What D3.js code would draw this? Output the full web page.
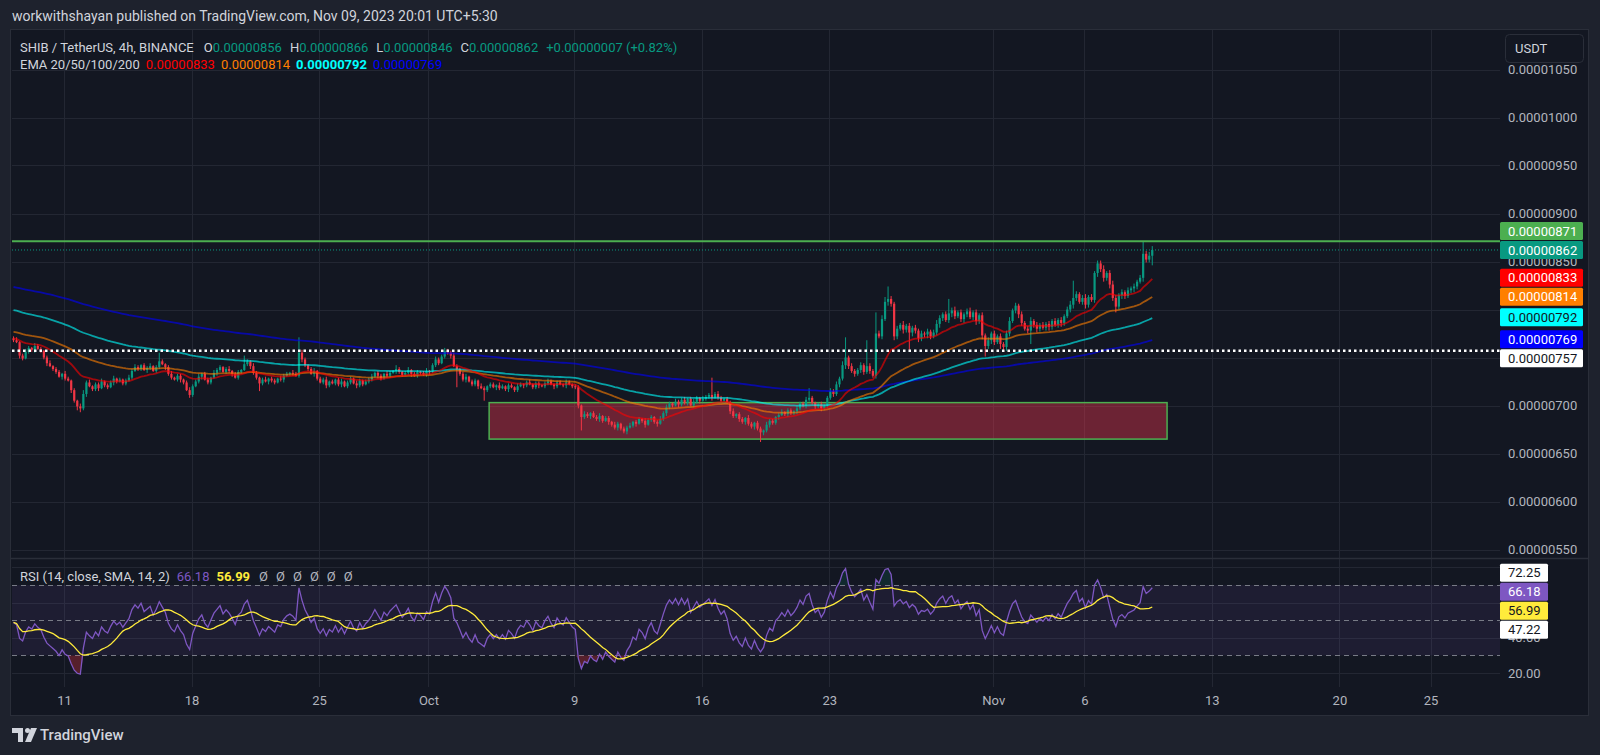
<!DOCTYPE html>
<html>
<head>
<meta charset="utf-8">
<script src="https://cdn.jsdelivr.net/npm/d3@7"></script>
<style>
body { margin: 0; background: #1e222d; }
svg { display: block; font-family: Roboto, "Noto Sans", sans-serif; }
</style>
</head>
<body>
<div id="chart"></div>
<script>
// ---- data (prices in units of 0.00000001 USDT) ----
var firstBar = Date.UTC(2023, 8, 8, 5, 30);   // first 4h candle
var barMs = 4 * 3600 * 1000;
var firstOpen = 770;

var closes = [
  768,766,752,749,756,760,758,762,759,757,750,744,741,738,735,730,733,728,726,716,
  705,699,697,712,724,720,717,722,718,725,721,719,724,728,725,727,723,726,729,736,
  740,738,742,737,739,741,736,740,746,743,740,733,729,727,731,727,724,716,711,720,
  725,730,733,727,724,729,734,737,740,735,738,736,733,729,735,737,743,746,741,734,
  729,723,727,725,728,726,724,728,727,731,733,734,733,731,755,748,742,738,733,736,
  728,724,727,721,725,723,727,722,725,720,724,728,723,721,726,722,725,727,730,734,
  731,728,733,731,734,736,738,735,732,734,737,733,731,735,734,732,736,735,742,748,
  744,751,757,755,752,741,738,733,727,730,725,722,726,720,718,716,720,722,719,721,
  718,720,717,721,719,716,720,722,721,724,722,719,723,721,720,723,725,722,720,724,
  722,721,724,722,720,719,700,688,691,689,692,688,686,689,684,687,683,680,677,681,
  676,673,677,679,683,681,686,684,680,685,688,683,681,686,692,698,702,700,704,701,
  706,703,707,700,704,708,705,707,709,711,708,712,708,705,707,703,694,689,691,686,
  683,687,681,678,682,676,672,674,680,684,682,688,690,693,691,695,692,694,697,702,
  700,706,708,703,699,701,697,700,708,715,712,722,728,742,750,741,736,733,737,742,
  735,741,736,731,775,772,790,808,811,806,772,780,784,779,783,776,781,778,770,775,
  774,777,772,776,785,791,795,789,796,799,793,797,790,795,798,792,797,788,794,773,
  762,768,775,766,772,764,761,775,788,799,804,795,786,780,778,788,784,780,784,781,
  785,782,788,784,789,786,793,800,805,812,816,808,812,805,813,810,838,848,842,833,
  838,826,812,803,815,818,814,820,822,824,829,833,858,852,856,862
];

// wick above the body / below the body
var upWick = [
  2,3,1,2,3,2,1,3,2,2,1,2,3,1,2,2,1,3,2,1,
  2,1,3,4,2,3,1,2,2,3,1,2,2,3,1,2,1,2,3,2,
  3,2,1,2,2,3,1,2,9,2,1,2,3,1,2,2,1,2,3,2,
  2,3,1,2,2,1,3,2,2,1,2,3,1,2,2,1,9,2,1,3,
  2,1,2,3,1,2,2,1,3,2,2,1,3,2,16,3,2,1,2,3,
  1,2,2,3,1,2,1,2,3,1,2,2,1,3,2,1,2,2,3,1,
  2,2,1,3,2,1,4,2,1,2,3,1,2,2,1,2,3,1,2,3,
  2,2,3,2,2,3,2,1,2,3,1,2,2,1,3,2,1,2,2,1,
  3,2,1,2,2,1,3,2,1,2,3,1,2,2,1,2,3,2,1,2,
  2,1,3,2,1,2,2,1,3,2,1,2,2,3,1,2,2,1,3,2,
  1,2,2,3,1,2,2,1,3,2,2,1,2,3,2,3,2,1,3,2,
  2,3,1,2,3,2,1,3,2,2,18,2,3,2,1,2,2,3,1,2,
  2,1,3,2,1,2,2,1,3,2,2,1,2,3,1,2,2,1,3,2,
  2,3,10,2,1,2,3,1,2,3,2,3,2,4,21,2,3,2,2,3,
  2,27,3,2,22,3,4,5,13,3,2,3,2,4,2,3,2,3,2,3,
  2,3,2,3,4,3,2,3,15,3,4,2,3,2,3,4,2,3,2,3,
  2,3,2,3,2,3,2,3,4,2,3,2,3,2,3,4,2,3,2,3,
  2,3,2,3,2,3,2,3,4,18,3,2,3,4,2,3,2,3,3,4,
  2,3,4,3,2,3,2,3,2,3,2,3,13,3,4,4
];
var dnWick = [
  2,1,3,2,1,2,2,3,1,2,2,3,1,2,2,1,3,2,1,3,
  2,4,4,2,3,1,2,2,3,1,2,2,1,3,2,1,2,2,1,2,
  1,2,2,1,3,2,1,2,2,1,3,2,2,1,2,3,2,1,3,2,
  1,2,3,1,2,2,1,3,2,1,2,2,3,1,2,2,1,2,3,2,
  2,8,2,1,3,2,2,1,2,3,1,2,2,1,2,3,2,2,1,3,
  2,1,2,3,2,1,2,2,3,1,2,2,1,3,2,2,1,2,2,1,
  3,2,1,2,2,1,3,2,2,1,2,3,1,2,2,1,2,3,1,2,
  2,1,2,2,3,1,19,2,2,3,1,2,2,3,1,11,2,2,1,3,
  2,1,2,3,1,2,2,1,3,2,1,2,2,3,1,2,2,1,3,2,
  1,2,3,1,2,2,3,14,2,2,3,1,2,3,2,1,3,2,2,3,
  2,2,3,1,2,3,1,2,3,1,2,2,3,1,2,3,2,2,1,3,
  2,2,3,1,2,2,3,1,2,2,3,1,2,2,3,1,3,2,2,3,
  2,3,2,2,3,2,10,3,2,3,2,2,3,1,2,3,2,2,3,2,
  2,3,2,2,3,2,3,2,3,2,3,2,3,2,4,3,2,3,2,3,
  3,2,3,2,3,2,3,2,4,3,4,3,2,4,3,18,4,3,4,3,
  3,4,3,2,3,4,3,2,3,4,3,2,3,4,3,2,3,4,3,4,
  11,3,4,3,2,5,3,4,3,2,3,4,3,2,3,14,3,4,3,2,
  3,4,3,2,3,4,3,2,3,4,3,2,3,4,3,2,3,4,3,4,
  3,4,3,6,3,4,3,2,3,4,3,2,4,3,3,10
];

var emaPeriods = [20, 50, 100, 200];
var emaSeeds   = [770, 777, 800, 824];     // EMA values at the left edge
var emaLast    = [833, 814, 792, 769];     // legend values
var lastBar    = [856, 866, 846, 862];     // O H L C
var lastChange = [7, 0.82];
var resistance = 871;
var support    = 757;
var zonePrices = [665, 703];
var zoneDates  = [Date.UTC(2023, 9, 4, 8), Date.UTC(2023, 10, 10, 13)];

var priceTicks = [550, 600, 650, 700, 750, 800, 850, 900, 950, 1000, 1050];
var rsiTicks   = [20, 40, 60, 80];
var rsiLevels  = [30, 50, 70];
var rsiLegend  = [66.18, 56.99];
var rsiBands   = [72.25, 47.22];
var dateTicks  = [Date.UTC(2023,8,11), Date.UTC(2023,8,18), Date.UTC(2023,8,25), Date.UTC(2023,9,1),
                  Date.UTC(2023,9,9), Date.UTC(2023,9,16), Date.UTC(2023,9,23), Date.UTC(2023,10,1),
                  Date.UTC(2023,10,6), Date.UTC(2023,10,13), Date.UTC(2023,10,20), Date.UTC(2023,10,25)];
var dateLabels = ["11", "18", "25", "Oct", "9", "16", "23", "Nov", "6", "13", "20", "25"];

// ---- styles ----
var upColor = "#089981", downColor = "#f23645";
var emaColors = ["#ff0000", "#ff7f00", "#00ffff", "#0000ff"];
var gridColor = "#232733";
var axisText = "#b2b5be";

function fmt(p) { return (p / 1e8).toFixed(8); }

// ---- derived series ----
var opens = closes.map(function(c, i) { return i === 0 ? firstOpen : closes[i - 1]; });
var highs = closes.map(function(c, i) { return Math.max(c, opens[i]) + upWick[i]; });
var lows  = closes.map(function(c, i) { return Math.min(c, opens[i]) - dnWick[i]; });
var times = closes.map(function(c, i) { return new Date(firstBar + i * barMs); });

function ema(period, seed) {
  var a = 2 / (period + 1), e = seed;
  return closes.map(function(c) { e = e + a * (c - e); return e; });
}
var emas = emaPeriods.map(function(p, k) { return ema(p, emaSeeds[k]); });

// RSI 14 (Wilder) and its SMA 14
var ag = 3, al = 3;
var rsi = closes.map(function(c, i) {
  var d = c - opens[i];
  ag = (ag * 13 + Math.max(d, 0)) / 14;
  al = (al * 13 + Math.max(-d, 0)) / 14;
  return 100 - 100 / (1 + ag / al);
});
var rsiMa = rsi.map(function(r, i) {
  var s = rsi.slice(Math.max(0, i - 13), i + 1);
  return d3.mean(s);
});

// ---- layout ----
var W = 1600, H = 755;
var plotL = 12, plotR = 1500;
var mainTop = 30, mainBot = 558, rsiBot = 687;

var svg = d3.select("#chart").append("svg")
    .attr("width", W)
    .attr("height", H);

svg.append("rect").attr("width", W).attr("height", H).attr("fill", "#1e222d");
svg.append("rect")
    .attr("x", 10.5).attr("y", 29.5)
    .attr("width", 1578).attr("height", 686)
    .attr("fill", "#131722").attr("stroke", "#2a2e39");

var x = d3.scaleTime()
    .domain([new Date(Date.UTC(2023, 8, 11)), new Date(Date.UTC(2023, 10, 25))])
    .range([64, 1430.5]);
var y = d3.scaleLinear().domain([550, 1050]).range([549.5, 69.5]);
var yR = d3.scaleLinear().domain([20, 80]).range([673, 567.4]);

var defs = svg.append("defs");
defs.append("clipPath").attr("id", "clipMain").append("rect")
    .attr("x", plotL).attr("y", mainTop).attr("width", plotR - plotL).attr("height", mainBot - mainTop);
defs.append("clipPath").attr("id", "clipRsi").append("rect")
    .attr("x", plotL).attr("y", mainBot).attr("width", plotR - plotL).attr("height", rsiBot - mainBot);

// grid
var grid = svg.append("g");
grid.selectAll(".hg").data(priceTicks).enter().append("line")
    .attr("x1", plotL).attr("x2", plotR)
    .attr("y1", function(d) { return Math.round(y(d)) + 0.5; })
    .attr("y2", function(d) { return Math.round(y(d)) + 0.5; })
    .attr("stroke", gridColor);
grid.selectAll(".rg").data(rsiTicks).enter().append("line")
    .attr("x1", plotL).attr("x2", plotR)
    .attr("y1", function(d) { return Math.round(yR(d)) + 0.5; })
    .attr("y2", function(d) { return Math.round(yR(d)) + 0.5; })
    .attr("stroke", gridColor);
grid.selectAll(".vg").data(dateTicks).enter().append("line")
    .attr("x1", function(d) { return Math.round(x(d)) + 0.5; })
    .attr("x2", function(d) { return Math.round(x(d)) + 0.5; })
    .attr("y1", mainTop).attr("y2", rsiBot)
    .attr("stroke", gridColor);

svg.append("line")
    .attr("x1", 10).attr("x2", 1588).attr("y1", mainBot + 0.5).attr("y2", mainBot + 0.5)
    .attr("stroke", "#2a2e39").attr("stroke-width", 1.5);

// ---- main pane ----
var main = svg.append("g").attr("clip-path", "url(#clipMain)");

// support zone
main.append("rect")
    .attr("x", x(zoneDates[0])).attr("y", y(zonePrices[1]))
    .attr("width", x(zoneDates[1]) - x(zoneDates[0]))
    .attr("height", y(zonePrices[0]) - y(zonePrices[1]))
    .attr("fill", "rgba(242,54,80,0.4)")
    .attr("stroke", "#4caf50").attr("stroke-width", 1.5);

// candles
var bodyW = 2.2;
var candle = main.selectAll(".candle").data(closes).enter().append("g");
candle.append("line")
    .attr("x1", function(d, i) { return x(times[i]); })
    .attr("x2", function(d, i) { return x(times[i]); })
    .attr("y1", function(d, i) { return y(highs[i]); })
    .attr("y2", function(d, i) { return y(lows[i]); })
    .attr("stroke", function(d, i) { return d >= opens[i] ? upColor : downColor; })
    .attr("stroke-width", 1);
candle.append("rect")
    .attr("x", function(d, i) { return x(times[i]) - bodyW / 2; })
    .attr("width", bodyW)
    .attr("y", function(d, i) { return y(Math.max(d, opens[i])); })
    .attr("height", function(d, i) { return Math.max(1, Math.abs(y(d) - y(opens[i]))); })
    .attr("fill", function(d, i) { return d >= opens[i] ? upColor : downColor; });

// EMA lines
var emaLine = d3.line()
    .x(function(d, i) { return x(times[i]); })
    .y(function(d) { return y(d); });
emas.slice().reverse().forEach(function(s, k) {
  main.append("path")
      .attr("d", emaLine(s))
      .attr("fill", "none")
      .attr("stroke", emaColors[3 - k])
      .attr("stroke-opacity", 0.6)
      .attr("stroke-width", 1.8);
});

// horizontal levels
main.append("line")
    .attr("x1", plotL).attr("x2", plotR)
    .attr("y1", y(resistance)).attr("y2", y(resistance))
    .attr("stroke", "#4caf50").attr("stroke-width", 2);
main.append("line")
    .attr("x1", plotL).attr("x2", plotR)
    .attr("y1", y(lastBar[3])).attr("y2", y(lastBar[3]))
    .attr("stroke", upColor).attr("stroke-width", 1).attr("stroke-dasharray", "1 2");
main.append("line")
    .attr("x1", plotL).attr("x2", plotR)
    .attr("y1", y(support)).attr("y2", y(support))
    .attr("stroke", "#ffffff").attr("stroke-width", 2.5).attr("stroke-dasharray", "2.5 3");

// value badges, the current value badge stays where it is
var badgeH = 19;
function stackBadges(items, fixedIdx) {
  var pos = items.map(function(d) { return d.y; });
  for (var i = fixedIdx - 1; i >= 0; i--) pos[i] = Math.min(pos[i], pos[i + 1] - badgeH);
  for (var j = fixedIdx + 1; j < items.length; j++) pos[j] = Math.max(pos[j], pos[j - 1] + badgeH);
  return pos;
}
function drawBadges(items, pos, w) {
  items.forEach(function(d, i) {
    svg.append("rect")
        .attr("x", plotR).attr("y", pos[i] - badgeH / 2 + 0.5)
        .attr("width", w).attr("height", badgeH - 1).attr("rx", 1.5)
        .attr("fill", d.bg);
    svg.append("text")
        .attr("x", plotR + 8).attr("y", pos[i])
        .attr("dy", "0.35em")
        .attr("font-size", "13px")
        .attr("fill", d.fg)
        .text(d.t);
  });
}
// scale labels that sit (almost) completely under badges are not drawn
function hiddenByBadges(ty, pos) {
  var covered = 0;
  pos.forEach(function(p) {
    var a = Math.max(ty - 5, p - badgeH / 2), b = Math.min(ty + 5, p + badgeH / 2);
    if (b > a) covered += b - a;
  });
  return covered >= 7;
}

var priceBadges = [
  { v: resistance, bg: "#4caf50", fg: "#ffffff" },
  { v: lastBar[3], bg: upColor, fg: "#ffffff" },
  { v: emaLast[0], bg: emaColors[0], fg: "#ffffff" },
  { v: emaLast[1], bg: emaColors[1], fg: "#ffffff" },
  { v: emaLast[2], bg: emaColors[2], fg: "#131722" },
  { v: emaLast[3], bg: emaColors[3], fg: "#ffffff" },
  { v: support, bg: "#ffffff", fg: "#131722" }
].map(function(d) { d.y = y(d.v); d.t = fmt(d.v); return d; });
var priceBadgePos = stackBadges(priceBadges, 1);

// price axis
var pAxis = svg.append("g")
    .attr("transform", "translate(" + plotR + ",0)")
    .call(d3.axisRight(y).tickValues(priceTicks).tickFormat(fmt).tickSize(0).tickPadding(8));
pAxis.select(".domain").remove();
pAxis.selectAll("text").attr("fill", axisText).attr("font-size", "13px")
    .attr("font-family", "Roboto, 'Noto Sans', sans-serif");
pAxis.selectAll(".tick").filter(function(d) { return hiddenByBadges(y(d), priceBadgePos); }).remove();
drawBadges(priceBadges, priceBadgePos, 83);

// currency button
svg.append("rect")
    .attr("x", 1505.5).attr("y", 34.5).attr("width", 78).attr("height", 28).attr("rx", 4)
    .attr("fill", "#131722").attr("stroke", "#2a2e39");
svg.append("text")
    .attr("x", 1515).attr("y", 48.5).attr("dy", "0.35em")
    .attr("font-size", "13px").attr("fill", "#d1d4dc")
    .text("USDT");

// ---- RSI pane ----
var rsiG = svg.append("g").attr("clip-path", "url(#clipRsi)");
rsiG.append("rect")
    .attr("x", plotL).attr("width", plotR - plotL)
    .attr("y", yR(70)).attr("height", yR(30) - yR(70))
    .attr("fill", "rgba(126,87,194,0.1)");
rsiG.selectAll(".lvl").data(rsiLevels).enter().append("line")
    .attr("x1", plotL).attr("x2", plotR)
    .attr("y1", function(d) { return Math.round(yR(d)) + 0.5; })
    .attr("y2", function(d) { return Math.round(yR(d)) + 0.5; })
    .attr("stroke", "#787b86").attr("stroke-dasharray", "5 4");

var rsiX = function(d, i) { return x(times[i]); };
rsiG.append("path")
    .attr("d", d3.area().x(rsiX).y0(yR(30)).y1(function(d) { return yR(Math.min(d, 30)); })(rsi))
    .attr("fill", "rgba(242,54,69,0.3)");
rsiG.append("path")
    .attr("d", d3.area().x(rsiX).y0(yR(70)).y1(function(d) { return yR(Math.max(d, 70)); })(rsi))
    .attr("fill", "rgba(8,153,129,0.15)");
rsiG.append("path")
    .attr("d", d3.line().x(rsiX).y(function(d) { return yR(d); })(rsi))
    .attr("fill", "none").attr("stroke", "#7e57c2").attr("stroke-width", 1.3);
rsiG.append("path")
    .attr("d", d3.line().x(rsiX).y(function(d) { return yR(d); })(rsiMa))
    .attr("fill", "none").attr("stroke", "#ffeb3b").attr("stroke-width", 1.3);

var rsiBadgeItems = [
  { v: rsiBands[0], bg: "#ffffff", fg: "#131722" },
  { v: rsiLegend[0], bg: "#7e57c2", fg: "#ffffff" },
  { v: rsiLegend[1], bg: "#ffeb3b", fg: "#131722" },
  { v: rsiBands[1], bg: "#ffffff", fg: "#131722" }
].map(function(d) { d.y = yR(d.v); d.t = d.v.toFixed(2); return d; });
var rsiBadgePos = stackBadges(rsiBadgeItems, 1);

var rAxis = svg.append("g")
    .attr("transform", "translate(" + plotR + ",0)")
    .call(d3.axisRight(yR).tickValues(rsiTicks).tickFormat(function(d) { return d.toFixed(2); })
    .tickSize(0).tickPadding(8));
rAxis.select(".domain").remove();
rAxis.selectAll("text").attr("fill", axisText).attr("font-size", "13px")
    .attr("font-family", "Roboto, 'Noto Sans', sans-serif");
rAxis.selectAll(".tick").filter(function(d) { return hiddenByBadges(yR(d), rsiBadgePos); }).remove();
drawBadges(rsiBadgeItems, rsiBadgePos, 48);

// ---- time axis ----
var tAxis = svg.append("g")
    .attr("transform", "translate(0," + (rsiBot + 3) + ")")
    .call(d3.axisBottom(x).tickValues(dateTicks.map(function(d) { return new Date(d); }))
    .tickFormat(function(d, i) { return dateLabels[i]; }).tickSize(0).tickPadding(6));
tAxis.select(".domain").remove();
tAxis.selectAll("text").attr("fill", axisText).attr("font-size", "13px")
    .attr("font-family", "Roboto, 'Noto Sans', sans-serif");

// ---- legends ----
svg.append("text")
    .attr("x", 12).attr("y", 16).attr("dy", "0.35em")
    .attr("font-size", "14px").attr("fill", "#d1d4dc")
    .text("workwithshayan published on TradingView.com, Nov 09, 2023 20:01 UTC+5:30");

var leg1 = svg.append("text").attr("x", 20).attr("y", 47).attr("dy", "0.35em")
    .attr("font-size", "13px").attr("fill", "#d1d4dc");
leg1.append("tspan").text("SHIB / TetherUS, 4h, BINANCE");
["O", "H", "L", "C"].forEach(function(k, i) {
  leg1.append("tspan").attr("dx", i === 0 ? 10 : 8).text(k);
  leg1.append("tspan").attr("fill", upColor).text(fmt(lastBar[i]));
});
leg1.append("tspan").attr("dx", 8).attr("fill", upColor)
    .text("+" + fmt(lastChange[0]) + " (+" + lastChange[1].toFixed(2) + "%)");

var leg2 = svg.append("text").attr("x", 20).attr("y", 64).attr("dy", "0.35em")
    .attr("font-size", "13px").attr("fill", "#d1d4dc");
leg2.append("tspan").text("EMA " + emaPeriods.join("/"));
emaLast.forEach(function(v, i) {
  leg2.append("tspan").attr("dx", 6).attr("fill", emaColors[i])
      .attr("font-weight", i === 2 ? "bold" : "normal").text(fmt(v));
});

var leg3 = svg.append("text").attr("x", 20).attr("y", 576).attr("dy", "0.35em")
    .attr("font-size", "13px").attr("fill", "#d1d4dc");
leg3.append("tspan").text("RSI (14, close, SMA, 14, 2)");
leg3.append("tspan").attr("dx", 7).attr("fill", "#7e57c2").text(rsiLegend[0].toFixed(2));
leg3.append("tspan").attr("dx", 7).attr("fill", "#ffeb3b").attr("font-weight", "bold").text(rsiLegend[1].toFixed(2));
d3.range(6).forEach(function(k) {
  leg3.append("tspan").attr("dx", k === 0 ? 9 : 8).attr("fill", axisText).text("\u00d8");
});

// ---- footer logo ----
var logo = svg.append("g").attr("fill", "#d1d4dc");
logo.append("path").attr("d", "M12,728 H23 V742 H18 V733 H12 Z");
logo.append("circle").attr("cx", 27.5).attr("cy", 730.5).attr("r", 2.5);
logo.append("path").attr("d", "M31,728 H37 L31,742 H25 Z");
svg.append("text")
    .attr("x", 40).attr("y", 735).attr("dy", "0.35em")
    .attr("font-size", "15px").attr("font-weight", "500").attr("fill", "#d1d4dc")
    .text("TradingView");
</script>
</body>
</html>
